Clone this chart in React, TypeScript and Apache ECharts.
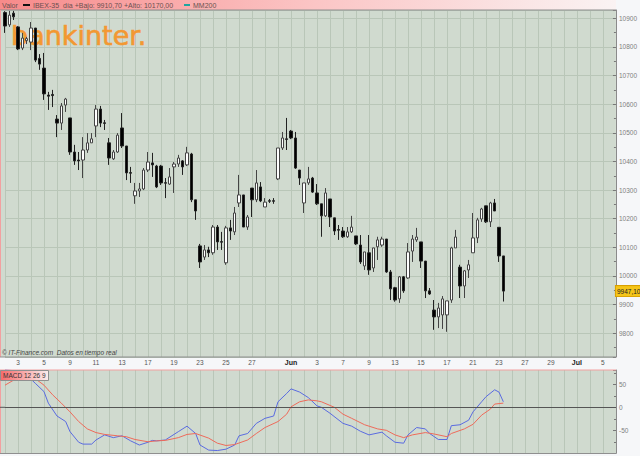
import React, { useEffect, useRef } from "react";
import * as echarts from "echarts";

// Trading days (2011) - 3 sessions per day on the chart
const mayDays = [2, 3, 4, 5, 6, 9, 10, 11, 12, 13, 16, 17, 18, 19, 20, 23, 24, 25, 26, 27, 30, 31];
const junDays = [1, 2, 3, 6, 7, 8, 9, 10, 13, 14, 15, 16, 17, 20, 21, 22, 23, 24, 27, 28, 29, 30];
const julDays = [1, 4, 5, 6];
const sessionsPerDay = 3;
const slotCount = 142;

// Days that carry a tick label on the date axis
const labeledDays = [
  "5-3", "5-5", "5-9", "5-11", "5-13", "5-17", "5-19", "5-23", "5-25", "5-27",
  "6-1", "6-3", "6-7", "6-9", "6-13", "6-15", "6-17", "6-21", "6-23", "6-27", "6-29",
  "7-1", "7-5",
];
const monthNames: Record<number, string> = { 5: "May", 6: "Jun", 7: "Jul" };

// OHLC per session: [open, close, low, high]
const candles: number[][] = [
  [10920, 10873, 10849, 10925], [10877, 10911, 10870, 10926], [10918, 10905, 10894, 10926],
  [10870, 10793, 10789, 10873], [10796, 10831, 10789, 10849], [10822, 10829, 10810, 10835],
  [10817, 10866, 10789, 10887], [10866, 10754, 10747, 10866], [10760, 10740, 10720, 10775],
  [10726, 10636, 10615, 10779], [10632, 10628, 10580, 10643], [10634, 10630, 10590, 10650],
  [10548, 10534, 10485, 10562], [10534, 10594, 10510, 10604], [10597, 10618, 10573, 10622],
  [10552, 10433, 10423, 10552], [10433, 10402, 10388, 10458], [10405, 10402, 10370, 10433],
  [10405, 10440, 10342, 10485], [10440, 10465, 10430, 10499], [10465, 10479, 10465, 10499],
  [10524, 10583, 10485, 10597], [10583, 10534, 10520, 10594], [10535, 10533, 10510, 10545],
  [10465, 10412, 10388, 10482], [10409, 10433, 10405, 10440], [10433, 10492, 10430, 10499],
  [10517, 10454, 10447, 10569], [10454, 10360, 10335, 10454], [10361, 10359, 10325, 10381],
  [10280, 10297, 10252, 10325], [10297, 10304, 10276, 10325], [10304, 10370, 10300, 10377],
  [10370, 10398, 10363, 10433], [10395, 10388, 10346, 10430], [10384, 10311, 10307, 10388],
  [10384, 10325, 10318, 10388], [10326, 10324, 10272, 10342], [10321, 10346, 10318, 10377],
  [10381, 10391, 10290, 10398], [10391, 10412, 10381, 10423], [10402, 10381, 10353, 10405],
  [10388, 10430, 10384, 10451], [10426, 10266, 10258, 10430], [10266, 10227, 10196, 10266],
  [10105, 10049, 10028, 10112], [10066, 10091, 10056, 10108], [10091, 10081, 10066, 10102],
  [10081, 10171, 10074, 10178], [10171, 10119, 10091, 10178], [10120, 10118, 10091, 10154],
  [10046, 10168, 10039, 10175], [10168, 10157, 10126, 10196], [10154, 10220, 10143, 10241],
  [10255, 10283, 10241, 10353], [10283, 10171, 10171, 10283], [10171, 10206, 10161, 10213],
  [10307, 10266, 10206, 10307], [10266, 10325, 10258, 10370], [10311, 10262, 10258, 10328],
  [10241, 10258, 10241, 10272], [10263, 10261, 10255, 10269], [10263, 10261, 10252, 10272],
  [10339, 10447, 10335, 10447], [10447, 10482, 10440, 10503], [10479, 10477, 10440, 10552],
  [10506, 10482, 10478, 10510], [10482, 10377, 10374, 10503], [10370, 10342, 10318, 10370],
  [10255, 10325, 10220, 10325], [10325, 10339, 10318, 10381], [10342, 10293, 10290, 10346],
  [10290, 10252, 10248, 10321], [10252, 10210, 10137, 10252], [10210, 10290, 10206, 10307],
  [10269, 10206, 10171, 10269], [10203, 10157, 10143, 10203], [10162, 10160, 10126, 10178],
  [10157, 10137, 10133, 10171], [10137, 10154, 10133, 10171], [10154, 10171, 10150, 10210],
  [10140, 10112, 10108, 10140], [10108, 10049, 10042, 10143], [10035, 10084, 10021, 10084],
  [10081, 10021, 10004, 10143], [10028, 10098, 10014, 10098], [10102, 10126, 10056, 10137],
  [10108, 10129, 10102, 10137], [10129, 10014, 10011, 10129], [10014, 9955, 9916, 10021],
  [9959, 9916, 9910, 9962], [9920, 9997, 9906, 10000], [9997, 9948, 9941, 10000],
  [9993, 10084, 9990, 10115], [10087, 10129, 10049, 10143], [10126, 10136, 10119, 10168],
  [10119, 10052, 10028, 10119], [10052, 9948, 9923, 10052], [9948, 9937, 9934, 9958],
  [9881, 9857, 9812, 9916], [9857, 9888, 9818, 9906], [9864, 9920, 9815, 9930],
  [9864, 9913, 9805, 9913], [9916, 10098, 9906, 10102], [10098, 10136, 10098, 10161],
  [10031, 9965, 9923, 10039], [9965, 10018, 9923, 10021], [10021, 10039, 9993, 10056],
  [10081, 10133, 10081, 10220], [10133, 10196, 10115, 10203], [10199, 10234, 10189, 10238],
  [10245, 10189, 10185, 10245], [10189, 10255, 10171, 10259], [10255, 10227, 10227, 10269],
  [10170, 10070, 10049, 10170], [10070, 9947.1, 9910.7, 10070],
];

const lastPrice = 9947.1;
const lastPriceText = "9947,10";

// MACD (12,26,9) readings: [session index, value]
const macdLine: number[][] = [
  [0, 82], [3, 78], [6, 61], [7, 52], [9, 34], [10, 9], [12, -19], [14, -31], [15, -53],
  [17, -76], [18, -80], [20, -80], [21, -71], [23, -60], [25, -66], [27, -62], [29, -73],
  [31, -82], [33, -76], [34, -72], [35, -73], [37, -71], [40, -53], [42, -41], [44, -57],
  [45, -82], [47, -93], [49, -94], [51, -91], [53, -82], [54, -62], [56, -57], [58, -35],
  [60, -24], [62, -19], [63, 12], [65, 30], [66, 40], [68, 33], [70, 21], [72, 3], [73, 0],
  [75, -13], [78, -35], [80, -41], [82, -52], [84, -60], [87, -54], [88, -62], [90, -76],
  [92, -78], [93, -60], [95, -44], [97, -47], [98, -57], [100, -70], [102, -70], [103, -40],
  [105, -38], [107, -28], [108, -10], [110, 12], [111, 23], [113, 38], [114, 33], [115, 12],
];
const signalLine: number[][] = [
  [0, 48], [2, 59], [3, 64], [6, 64], [7, 62], [9, 48], [11, 27], [13, 9], [15, -10],
  [17, -31], [19, -47], [21, -55], [23, -59], [26, -62], [28, -64], [30, -70], [33, -75],
  [35, -73], [37, -72], [40, -66], [42, -59], [44, -57], [47, -67], [49, -78], [51, -83],
  [53, -81], [56, -71], [58, -57], [60, -44], [63, -31], [65, -15], [66, 1], [68, 12],
  [70, 16], [72, 14], [73, 12], [76, 0], [78, -15], [80, -24], [83, -38], [86, -47],
  [88, -50], [90, -60], [92, -66], [94, -60], [97, -55], [99, -58], [102, -64], [103, -57],
  [106, -47], [108, -37], [110, -17], [112, -4], [113, 7], [115, 9],
];

// Build session categories and the label shown for each
const allDays: { m: number; d: number }[] = [
  ...mayDays.map((d) => ({ m: 5, d })),
  ...junDays.map((d) => ({ m: 6, d })),
  ...julDays.map((d) => ({ m: 7, d })),
];
const categories: string[] = [];
const slotLabels: string[] = [];
allDays.forEach(({ m, d }) => {
  for (let s = 0; s < sessionsPerDay; s++) {
    if (categories.length >= slotCount) return;
    categories.push(`${m}-${d}-${s}`);
    const show = s === 0 && labeledDays.includes(`${m}-${d}`);
    slotLabels.push(show ? (d === 1 ? `{m|${monthNames[m]}}` : String(d)) : "");
  }
});

const BG = "#D0DACF";
const GRIDC = "#B9C6B8";
const PAGE = "#F6F7F9";
const FONT = "'Liberation Sans', Arial, sans-serif";

export default function App() {
  const ref = useRef<HTMLDivElement>(null);
  useEffect(() => {
    const chart = echarts.init(ref.current!, null, { renderer: "svg" });
    const gridLineInterval = (i: number) => i % 3 === 0;
    const plain = (v: number) => String(v);
    const option: any = {
      animation: false,
      backgroundColor: PAGE,
      textStyle: { fontFamily: FONT },
      grid: [
        { left: 5, right: 24, top: 10, height: 347, show: true, backgroundColor: BG, borderWidth: 0 },
        { left: 5, right: 24, top: 370, height: 83.3, show: true, backgroundColor: BG, borderWidth: 0 },
      ],
      xAxis: [
        {
          type: "category", gridIndex: 0, data: categories, boundaryGap: false,
          axisLine: { show: false }, axisTick: { show: false },
          axisLabel: {
            interval: (i: number) => slotLabels[i] !== "",
            formatter: (_v: string, i: number) => slotLabels[i],
            fontSize: 6.5, color: "#555", margin: 2, fontFamily: FONT,
            rich: { m: { fontSize: 7, fontWeight: "bold", color: "#222", fontFamily: FONT } },
          },
          splitLine: { show: true, interval: gridLineInterval, lineStyle: { color: GRIDC, width: 1 } },
        },
        {
          type: "category", gridIndex: 1, data: categories, boundaryGap: false,
          axisLine: { show: false }, axisTick: { show: false }, axisLabel: { show: false },
          splitLine: { show: true, interval: gridLineInterval, lineStyle: { color: GRIDC, width: 1 } },
        },
      ],
      yAxis: [
        {
          type: "value", gridIndex: 0, position: "right", min: 9717, max: 10929, splitNumber: 12,
          axisLine: { show: true, lineStyle: { color: "#8a8a8a" } },
          axisTick: { show: true, inside: true, length: 3, lineStyle: { color: "#777" } },
          minorTick: { show: true, splitNumber: 2, length: 2, lineStyle: { color: "#777" } },
          axisLabel: { fontSize: 6.5, color: "#808080", margin: 3, showMinLabel: false, showMaxLabel: false, fontFamily: FONT, formatter: plain },
          splitLine: { show: true, lineStyle: { color: GRIDC, width: 1 } },
        },
        {
          type: "value", gridIndex: 1, position: "right", min: -100, max: 81, splitNumber: 4,
          axisLine: { show: true, lineStyle: { color: "#8a8a8a" } },
          axisTick: { show: true, inside: true, length: 3, lineStyle: { color: "#777" } },
          minorTick: { show: true, splitNumber: 2, length: 2, lineStyle: { color: "#777" } },
          axisLabel: { fontSize: 6.5, color: "#808080", margin: 3, showMinLabel: false, showMaxLabel: false, fontFamily: FONT, formatter: plain },
          splitLine: { show: false },
        },
      ],
      series: [
        {
          type: "candlestick", xAxisIndex: 0, yAxisIndex: 0, data: candles, barWidth: 3, clip: false,
          itemStyle: { color: "#ffffff", color0: "#000000", borderColor: "#444444", borderColor0: "#222222", borderWidth: 1 },
          markLine: {
            silent: true, symbol: "none", data: [{ yAxis: lastPrice }],
            lineStyle: { color: "rgba(0,0,0,0)", width: 0 },
            label: {
              show: true, position: "end", distance: 0, formatter: lastPriceText, opacity: 1,
              backgroundColor: "#F5C518", borderColor: "#D9A000", borderWidth: 1,
              padding: [2, 1, 1, 1], fontSize: 6.5, color: "#222", fontFamily: FONT,
            },
          },
        },
        {
          type: "line", xAxisIndex: 1, yAxisIndex: 1, data: macdLine, symbol: "none", connectNulls: true,
          lineStyle: { color: "#5A6BE0", width: 1 }, z: 3,
          markLine: {
            silent: true, symbol: "none", data: [{ yAxis: 0 }], label: { show: false },
            lineStyle: { color: "#555", width: 1, type: "solid" },
          },
        },
        {
          type: "line", xAxisIndex: 1, yAxisIndex: 1, data: signalLine, symbol: "none", connectNulls: true,
          lineStyle: { color: "#EE6A5A", width: 1 }, z: 3,
        },
      ],
      graphic: {
        elements: [
          // left strips of the panels
          { type: "rect", shape: { x: 0, y: 10, width: 5, height: 347 }, style: { fill: BG }, z: 0, silent: true },
          { type: "rect", shape: { x: 0, y: 370, width: 5, height: 83.3 }, style: { fill: BG }, z: 0, silent: true },
          // watermark logo
          {
            type: "text", x: 11, y: 35, z: 1, silent: true,
            style: { text: "bankinter.", fill: "#F39832", font: "27px 'DejaVu Sans'", verticalAlign: "middle", stroke: "#F39832", lineWidth: 0.6 },
          },
          // header bar
          {
            type: "rect", shape: { x: 0, y: 0, width: 616, height: 10 }, z: 100, silent: true,
            style: {
              fill: new echarts.graphic.LinearGradient(0, 0, 1, 0, [
                { offset: 0, color: "#F78A8A" }, { offset: 0.5, color: "#FBC4C4" }, { offset: 1, color: "#FAF3F3" },
              ]),
            },
          },
          { type: "line", shape: { x1: 0, y1: 10, x2: 616, y2: 10 }, style: { stroke: "#8f8f8f", lineWidth: 1 }, z: 101, silent: true },
          { type: "text", x: 2, y: 5, z: 102, silent: true, style: { text: "Valor", fill: "#6a5050", font: `7px ${FONT}`, verticalAlign: "middle" } },
          { type: "rect", shape: { x: 23, y: 4, width: 7, height: 2 }, style: { fill: "#111" }, z: 102, silent: true },
          { type: "text", x: 33, y: 5, z: 102, silent: true, style: { text: "IBEX-35", fill: "#6a5050", font: `7px ${FONT}`, verticalAlign: "middle" } },
          { type: "text", x: 63, y: 5, z: 102, silent: true, style: { text: "día +Bajo: 9910,70 +Alto: 10170,00", fill: "#6a5050", font: `7px ${FONT}`, verticalAlign: "middle" } },
          { type: "rect", shape: { x: 184, y: 4, width: 6, height: 2 }, style: { fill: "#1FA5A0" }, z: 102, silent: true },
          { type: "text", x: 193, y: 5, z: 102, silent: true, style: { text: "MM200", fill: "#6a5050", font: `7px ${FONT}`, verticalAlign: "middle" } },
          // panel borders
          { type: "line", shape: { x1: 0.5, y1: 10, x2: 0.5, y2: 357 }, style: { stroke: "#F2A0A0", lineWidth: 1 }, z: 101, silent: true },
          { type: "line", shape: { x1: 0, y1: 357, x2: 616, y2: 357 }, style: { stroke: "#8f8f8f", lineWidth: 1 }, z: 101, silent: true },
          { type: "line", shape: { x1: 0, y1: 370, x2: 616, y2: 370 }, style: { stroke: "#F2A0A0", lineWidth: 1 }, z: 101, silent: true },
          { type: "line", shape: { x1: 0.5, y1: 370, x2: 0.5, y2: 453.5 }, style: { stroke: "#F2A0A0", lineWidth: 1 }, z: 101, silent: true },
          { type: "line", shape: { x1: 0, y1: 453.5, x2: 616, y2: 453.5 }, style: { stroke: "#8f8f8f", lineWidth: 1 }, z: 101, silent: true },
          { type: "line", shape: { x1: 0, y1: 407.3, x2: 5, y2: 407.3 }, style: { stroke: "#555", lineWidth: 1 }, z: 101, silent: true },
          // source note
          { type: "text", x: 2, y: 352, z: 102, silent: true, style: { text: "© IT-Finance.com  Datos en tiempo real", fill: "#444", font: `italic 6.5px ${FONT}`, verticalAlign: "middle" } },
          // MACD legend box
          {
            type: "rect", shape: { x: 0.5, y: 370.5, width: 48, height: 10 }, z: 102, silent: true,
            style: {
              fill: new echarts.graphic.LinearGradient(0, 0, 1, 0, [
                { offset: 0, color: "#F76A6A" }, { offset: 1, color: "#FBEDED" },
              ]),
              stroke: "#8f8f8f", lineWidth: 1,
            },
          },
          { type: "text", x: 3, y: 375.7, z: 103, silent: true, style: { text: "MACD 12 26 9", fill: "#333", font: `6.5px ${FONT}`, verticalAlign: "middle" } },
        ],
      },
    };
    chart.setOption(option);
    return () => chart.dispose();
  }, []);
  return <div ref={ref} style={{ position: "fixed", left: 0, top: 0, width: 640, height: 456 }} />;
}
